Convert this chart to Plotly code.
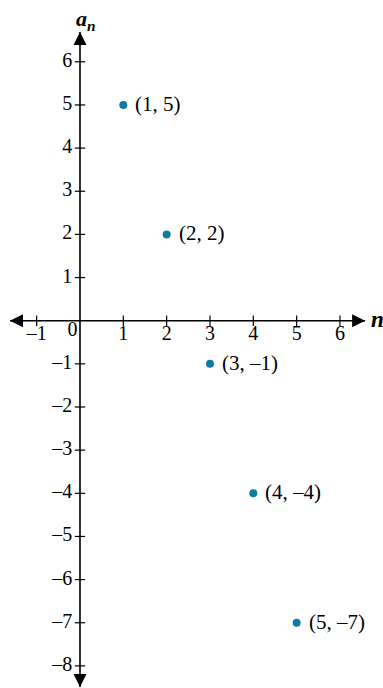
import plotly.graph_objects as go

# sequence points a_n = 8 - 3n
n_vals = [1, 2, 3, 4, 5]
a_vals = [5, 2, -1, -4, -7]
point_labels = ["(1, 5)", "(2, 2)", "(3, –1)", "(4, –4)", "(5, –7)"]

x_ticks = [-1, 1, 2, 3, 4, 5, 6]
x_tick_text = ["–1", "1", "2", "3", "4", "5", "6"]
y_ticks = [6, 5, 4, 3, 2, 1, -1, -2, -3, -4, -5, -6, -7, -8]
y_tick_text = ["6", "5", "4", "3", "2", "1", "–1", "–2", "–3", "–4", "–5", "–6", "–7", "–8"]

# where the axis arrows end
x_ends = [-1.615, 6.58]
y_ends = [-8.49, 6.69]

SERIF = "Liberation Serif"
DOT = "#0e7ba3"
tick_half = 0.12

fig = go.Figure()

# axis lines
fig.add_trace(go.Scatter(x=[x_ends[0], x_ends[1], None, 0, 0],
                         y=[0, 0, None, y_ends[0], y_ends[1]],
                         mode="lines", line=dict(color="black", width=1.6),
                         hoverinfo="skip", showlegend=False))
# arrow heads
fig.add_trace(go.Scatter(x=[x_ends[0], x_ends[1], 0, 0],
                         y=[0, 0, y_ends[0], y_ends[1]],
                         mode="markers",
                         marker=dict(symbol=["arrow-left", "arrow-right", "arrow-down", "arrow-up"],
                                     size=13, color="black", line=dict(width=0)),
                         hoverinfo="skip", showlegend=False))

# tick marks crossing the axes
tx, ty = [], []
for t in x_ticks:
  tx += [t, t, None]
  ty += [-tick_half, tick_half, None]
for t in y_ticks:
  tx += [-tick_half, tick_half, None]
  ty += [t, t, None]
fig.add_trace(go.Scatter(x=tx, y=ty, mode="lines",
                         line=dict(color="black", width=1.2),
                         hoverinfo="skip", showlegend=False))

# tick labels
fig.add_trace(go.Scatter(x=x_ticks, y=[-0.34] * len(x_ticks), mode="text",
                         text=x_tick_text, textposition="middle center",
                         textfont=dict(family=SERIF, size=20, color="black"),
                         hoverinfo="skip", showlegend=False))
fig.add_trace(go.Scatter(x=[-0.17], y=[-0.25], mode="text", text=["0"],
                         textposition="middle center",
                         textfont=dict(family=SERIF, size=20, color="black"),
                         hoverinfo="skip", showlegend=False))
fig.add_trace(go.Scatter(x=[-0.18] * len(y_ticks), y=y_ticks, mode="text",
                         text=y_tick_text, textposition="middle left",
                         textfont=dict(family=SERIF, size=20, color="black"),
                         hoverinfo="skip", showlegend=False))

# the points
fig.add_trace(go.Scatter(x=n_vals, y=a_vals, mode="markers",
                         marker=dict(size=8, color=DOT),
                         showlegend=False))
for xv, yv, lab in zip(n_vals, a_vals, point_labels):
  fig.add_annotation(x=xv, y=yv, text=lab, showarrow=False,
                     xanchor="left", xshift=10, yshift=1,
                     font=dict(family=SERIF, size=21, color="black"))

fig.add_annotation(x=0.14, y=6.97, xref="x", yref="y", showarrow=False,
                   text="<b><i>a</i></b><sub><b><i>n</i></b></sub>",
                   font=dict(family=SERIF, size=22, color="black"))
fig.add_annotation(x=6.86, y=0.03, xref="x", yref="y", showarrow=False,
                   text="<b><i>n</i></b>",
                   font=dict(family=SERIF, size=23, color="black"))

fig.update_xaxes(range=[-1.846, 6.993], visible=False, fixedrange=True)
fig.update_yaxes(range=[-8.512, 7.432], visible=False, fixedrange=True)
fig.update_layout(
  width=383, height=688,
  margin=dict(l=0, r=0, t=0, b=0),
  paper_bgcolor="white", plot_bgcolor="white",
)
fig.write_html("out.html", config={"displayModeBar": False},
               post_script="document.body.style.margin='0';")
